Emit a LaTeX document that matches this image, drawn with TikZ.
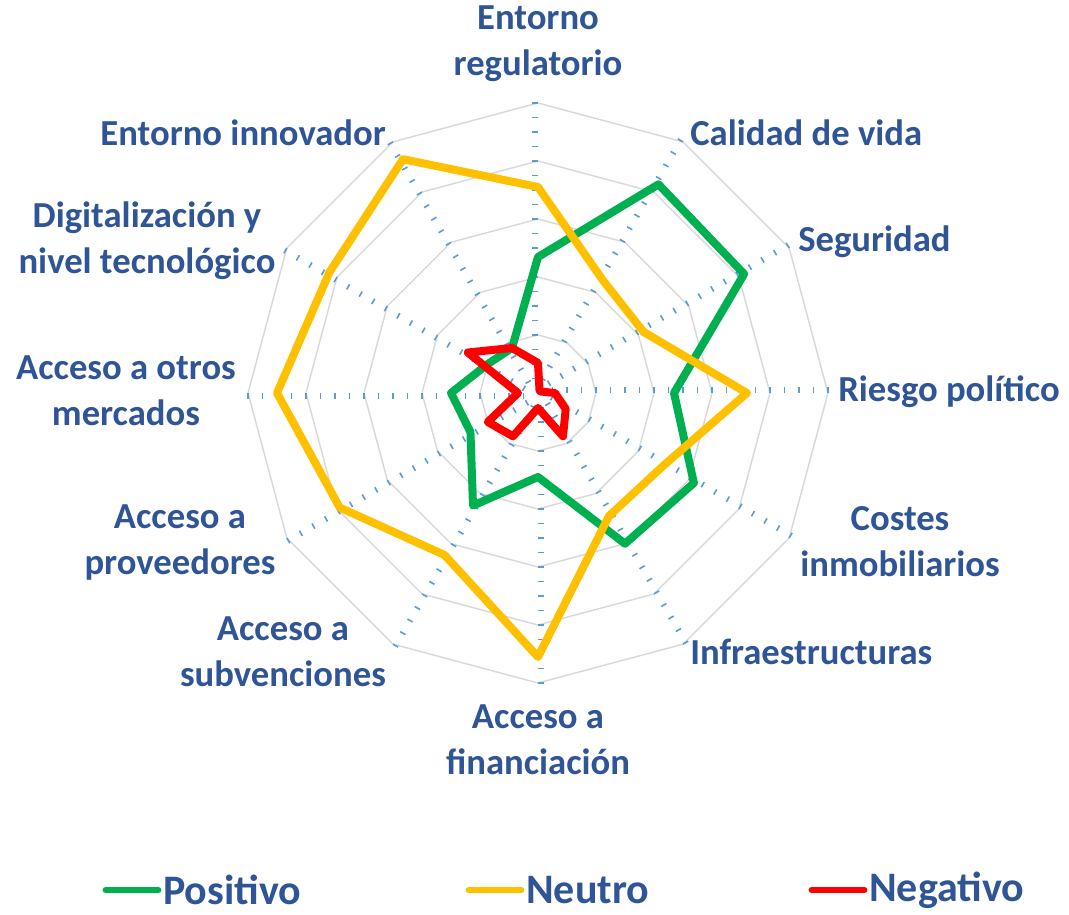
\documentclass[tikz,border=0pt]{standalone}
\usepackage{fontspec}
\setmainfont{Carlito}
\usetikzlibrary{positioning}
\definecolor{posgreen}{HTML}{00B050}
\definecolor{neuyellow}{HTML}{FFC000}
\definecolor{negred}{HTML}{FF0000}
\definecolor{ringgray}{HTML}{D9D9D9}
\definecolor{tickblue}{HTML}{5B9BD5}
\definecolor{labelblue}{HTML}{2F5597}
\tikzset{
  ring/.style={draw=ringgray, line width=1.1pt},
  axtick/.style={draw=tickblue, line width=1.2pt},
  series/.style={line width=6pt, line join=round},
  catlabel/.style={text=labelblue, inner sep=0pt, align=center,
    font=\bfseries\fontsize{27.5}{34.5}\selectfont},
  legtext/.style={text=labelblue, inner sep=0pt, anchor=west,
    font=\bfseries\fontsize{31.5}{36}\selectfont},
  legline/.style={line width=5.2pt, line cap=round}
}

\begin{document}
\begin{tikzpicture}[x=0.75pt, y=0.75pt]
	%%%%% START %%%%%
	\useasboundingbox (-538, -521) rectangle (531, 393);
	
	% grid rings
	\foreach \k in {1,...,5}
		\draw[ring] (90:58*\k) \foreach \i in {1,...,11} { -- ({90-30*\i}:58*\k) } -- cycle;
	
	% axis ticks
	\foreach \i in {0,...,11}
		\foreach \k in {1,...,20}
			\draw[axtick] ({90-30*\i}:14.5*\k) -- ++({180-30*\i}:6);
	
	% series
	\draw[series, posgreen] (90:136) -- (60:241) -- (30:238) -- (0:136) -- (-30:180) -- (-60:174)
		-- (-90:84) -- (-120:130) -- (-150:78) -- (180:87) -- (150:58) -- (120:52) -- cycle;
	\draw[series, neuyellow] (90:206) -- (60:130) -- (30:122) -- (0:209) -- (-30:145) -- (-60:142)
		-- (-90:264) -- (-120:187) -- (-150:229) -- (180:261) -- (150:241) -- (120:270) -- cycle;
	\draw[series, negred] (90:30) -- (60:3) -- (30:3) -- (0:17) -- (-30:32) -- (-60:50)
		-- (-90:15) -- (-120:50) -- (-150:58) -- (180:20) -- (150:81) -- (120:52) -- cycle;
	
	% category labels
	\node[catlabel] (regulatorio) at (0, 349) {Entorno\\regulatorio};
	\node[catlabel, anchor=west] (calidad) at (152, 260) {Calidad de vida};
	\node[catlabel, anchor=west] (seguridad) at (260, 151) {Seguridad};
	\node[catlabel, anchor=west] (riesgo) at (300, 1) {Riesgo político};
	\node[catlabel] (costes) at (362, -149) {Costes\\inmobiliarios};
	\node[catlabel, anchor=west] (infra) at (152, -259) {Infraestructuras};
	\node[catlabel] (financiacion) at (0, -347) {Acceso a\\financiación};
	\node[catlabel] (subvenciones) at (-255, -259) {Acceso a\\subvenciones};
	\node[catlabel] (proveedores) at (-358, -149) {Acceso a\\proveedores};
	\node[catlabel] (mercados) at (-412, 2) {Acceso a otros\\mercados};
	\node[catlabel] (digital) at (-391, 152) {Digitalización y\\nivel tecnológico};
	\node[catlabel, anchor=east] (innovador) at (-152, 260) {Entorno innovador};
	
	% legend
	\node[legtext] (positivo) at (-375, -497) {Positivo};
	\node[legtext] (neutro) at (-12, -497) {Neutro};
	\node[legtext] (negativo) at (331, -497) {Negativo};
	\draw[legline, posgreen] (positivo.west) ++(-5, 0) -- ++(-52, 0);
	\draw[legline, neuyellow] (neutro.west) ++(-5, 0) -- ++(-52, 0);
	\draw[legline, negred] (negativo.west) ++(-5, 0) -- ++(-52, 0);
	%%%%% END %%%%%
\end{tikzpicture}
\end{document}
